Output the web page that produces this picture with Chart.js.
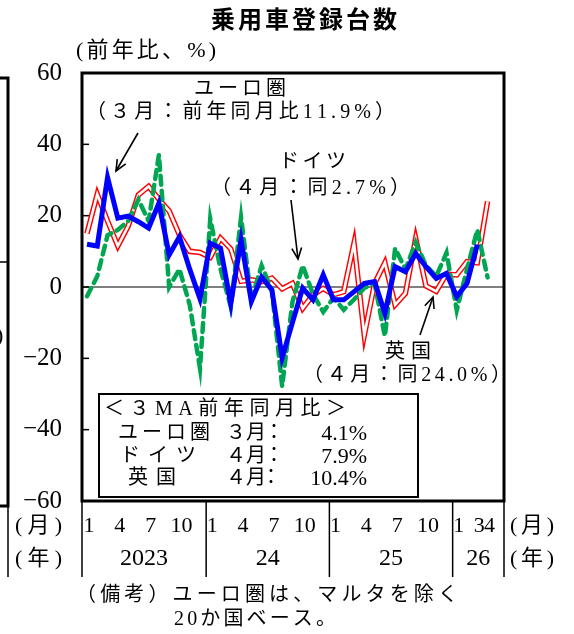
<!DOCTYPE html>
<html>
<head>
<meta charset="utf-8">
<script src="https://cdn.jsdelivr.net/npm/chart.js@4.4.1/dist/chart.umd.min.js"></script>
<style>
  html, body { margin: 0; padding: 0; background: #fff; }
  #wrap { width: 574px; height: 634px; }
</style>
</head>
<body>
<div id="wrap"><canvas id="myChart" width="574" height="634"></canvas></div>
<script>
// months, Jan 2023 - Apr 2026
const categories = [
  '2023-01','2023-02','2023-03','2023-04','2023-05','2023-06','2023-07','2023-08','2023-09','2023-10','2023-11','2023-12',
  '2024-01','2024-02','2024-03','2024-04','2024-05','2024-06','2024-07','2024-08','2024-09','2024-10','2024-11','2024-12',
  '2025-01','2025-02','2025-03','2025-04','2025-05','2025-06','2025-07','2025-08','2025-09','2025-10','2025-11','2025-12',
  '2026-01','2026-02','2026-03','2026-04'
];

// y/y % change
const euroArea = [
  12.0, 11.5, 30.7, 19.3, 19.9, 18.3, 16.5, 23.5, 9.0, 14.1, 5.0, -3.3,
  12.3, 10.9, -4.7, 13.2, -4.1, 2.8, -0.8, -19.8, -10.0, -0.3, -3.6, 3.4,
  -3.6, -3.6, -1.3, 1.0, 1.5, -7.4, 5.7, 4.3, 9.4, 5.7, 2.4, 3.8,
  -2.7, 1.0, 11.9, null
];
const germany = [
  -2.6, 3.0, 14.5, 16.0, 18.5, 24.5, 18.5, 37.0, 0.0, 5.0, -5.0, -22.8,
  19.1, 5.0, -5.5, 19.5, -3.5, 6.0, -1.0, -27.8, -4.2, 6.0, -2.0, -7.0,
  -3.0, -6.4, -3.5, -0.3, 1.0, -13.8, 10.8, 5.0, 12.5, 6.0, 3.0, 9.6,
  -6.5, 5.0, 16.0, 2.7
];
const uk = [
  15.0, 26.0, 18.5, 11.5, 17.0, 25.8, 28.2, 24.6, 21.3, 14.6, 10.0, 9.7,
  8.3, 13.7, 10.7, 1.6, 2.0, 1.5, 2.5, -0.5, 1.0, -6.0, -2.2, -0.4,
  -2.2, -1.3, 12.3, -13.5, 1.0, 6.8, -5.0, -1.8, 13.6, 0.3, -1.2, 3.6,
  3.4, 7.1, 6.8, 24.0
];

const yTicks = [60, 40, 20, 0, -20, -40, -60];
const monthTickIndex = [0, 3, 6, 9, 12, 15, 18, 21, 24, 27, 30, 33, 36, 38, 39];
const monthTickLabels = ['1', '4', '7', '10', '1', '4', '7', '10', '1', '4', '7', '10', '1', '3', '4'];
const yearStartIndex = [0, 12, 24, 36];
const yearLabels = ['2023', '24', '25', '26'];

const ma3Names = ['ユーロ圏', 'ドイツ', '英国'];
const ma3Months = ['３月', '４月', '４月'];
const ma3Values = ['4.1%', '7.9%', '10.4%'];

const serif = '"Liberation Serif", "Noto Sans CJK JP", serif';
const gothic = '"Noto Sans CJK JP", sans-serif';

function points(values) {
  return values.map(function (v, i) { return { x: i, y: v }; });
}

// draw text so that it fills x1..x2, gaps spread evenly
function spaced(ctx, text, x1, x2, y) {
  const chars = Array.from(text);
  const ws = chars.map(function (c) { return ctx.measureText(c).width; });
  const total = ws.reduce(function (a, b) { return a + b; }, 0);
  const gap = chars.length > 1 ? (x2 - x1 - total) / (chars.length - 1) : 0;
  let x = x1;
  ctx.textAlign = 'left';
  chars.forEach(function (c, k) {
    ctx.fillText(c, x, y);
    x += ws[k] + gap;
  });
}

function arrow(ctx, x1, y1, x2, y2) {
  ctx.beginPath();
  ctx.moveTo(x1, y1);
  ctx.lineTo(x2, y2);
  ctx.stroke();
  const a = Math.atan2(y2 - y1, x2 - x1);
  const len = 12, spread = 0.42;
  ctx.beginPath();
  ctx.moveTo(x2 - len * Math.cos(a - spread), y2 - len * Math.sin(a - spread));
  ctx.lineTo(x2, y2);
  ctx.lineTo(x2 - len * Math.cos(a + spread), y2 - len * Math.sin(a + spread));
  ctx.stroke();
}

const decor = {
  id: 'decor',
  beforeDatasetsDraw(chart) {
    const ctx = chart.ctx, area = chart.chartArea, ys = chart.scales.y;
    ctx.save();
    ctx.strokeStyle = '#000';
    ctx.lineWidth = 1.2;
    const y0 = ys.getPixelForValue(0);
    ctx.beginPath();
    ctx.moveTo(area.left, y0);
    ctx.lineTo(area.right, y0);
    ctx.stroke();
    ctx.lineWidth = 1.5;
    yTicks.forEach(function (t) {
      const y = ys.getPixelForValue(t);
      ctx.beginPath();
      ctx.moveTo(area.left, y);
      ctx.lineTo(area.left + 7, y);
      ctx.stroke();
    });
    ctx.restore();
  },
  afterDatasetsDraw(chart) {
    const ctx = chart.ctx, area = chart.chartArea, xs = chart.scales.x, ys = chart.scales.y;
    ctx.save();
    ctx.fillStyle = '#000';
    ctx.strokeStyle = '#000';
    ctx.textBaseline = 'middle';

    // frame
    ctx.lineWidth = 3;
    ctx.strokeRect(area.left, area.top, area.right - area.left, area.bottom - area.top);

    // 3MA box
    ctx.fillStyle = '#fff';
    ctx.fillRect(99, 394, 319, 103);
    ctx.lineWidth = 2;
    ctx.strokeRect(99, 394, 319, 103);
    ctx.fillStyle = '#000';
    ctx.font = '20px ' + serif;
    spaced(ctx, '＜３MA前年同月比＞', 104, 346, 410);
    const rowY = [434, 457, 479];
    const nameSpan = [[118, 210], [120, 196], [128, 176]];
    ma3Names.forEach(function (name, k) {
      spaced(ctx, name, nameSpan[k][0], nameSpan[k][1], rowY[k]);
      spaced(ctx, ma3Months[k], 226, 266, rowY[k]);
      ctx.textAlign = 'center';
      ctx.fillText('：', k === 2 ? 271 : 274, rowY[k]);
      ctx.textAlign = 'right';
      ctx.font = '22px ' + serif;
      ctx.fillText(ma3Values[k], 367, rowY[k]);
      ctx.font = '20px ' + serif;
    });

    // callouts
    ctx.font = '20px ' + serif;
    spaced(ctx, 'ユーロ圏', 194, 286, 90);
    spaced(ctx, '（３月：前年同月比11.9%）', 86, 395, 113);
    spaced(ctx, 'ドイツ', 279, 346, 163);
    spaced(ctx, '（４月：同2.7%）', 211, 410, 189);
    spaced(ctx, '英国', 385, 431, 353);
    spaced(ctx, '（４月：同24.0%）', 303, 511, 376);
    ctx.lineWidth = 1.6;
    arrow(ctx, 138, 133, 116, 171);
    arrow(ctx, 291, 200, 298, 259);
    arrow(ctx, 420, 335, 433, 297);

    // y tick labels
    ctx.font = '25px ' + serif;
    ctx.textAlign = 'right';
    yTicks.forEach(function (t) {
      const label = t < 0 ? '\u2212' + Math.abs(t) : String(t);
      ctx.fillText(label, 62, ys.getPixelForValue(t));
    });

    // month / year rows under the axis
    ctx.lineWidth = 1.5;
    const seps = [area.left, area.right].concat(yearStartIndex.slice(1).map(function (i) {
      return xs.getPixelForValue(i - 0.4);
    }));
    seps.forEach(function (x) {
      ctx.beginPath();
      ctx.moveTo(x, area.bottom);
      ctx.lineTo(x, 577);
      ctx.stroke();
    });
    ctx.font = '22px ' + serif;
    ctx.textAlign = 'center';
    monthTickIndex.forEach(function (i, k) {
      ctx.fillText(monthTickLabels[k], xs.getPixelForValue(i) + 2, 526);
    });
    ctx.font = '24px ' + serif;
    const bounds = [area.left].concat(yearStartIndex.slice(1).map(function (i) {
      return xs.getPixelForValue(i - 0.4);
    }), [area.right]);
    yearLabels.forEach(function (lab, k) {
      ctx.fillText(lab, (bounds[k] + bounds[k + 1]) / 2, 559);
    });
    ctx.font = '22px ' + serif;
    spaced(ctx, '(月)', 15, 62, 526);
    spaced(ctx, '(年)', 15, 62, 559);
    spaced(ctx, '(月)', 510, 554, 526);
    spaced(ctx, '(年)', 510, 554, 559);

    // titles and notes
    ctx.font = 'bold 24px ' + gothic;
    spaced(ctx, '乗用車登録台数', 211, 397, 19);
    ctx.font = '22px ' + serif;
    spaced(ctx, '(前年比、%)', 76, 216, 51);
    ctx.font = '20px ' + serif;
    spaced(ctx, '（備考）ユーロ圏は、マルタを除く', 76, 458, 596);
    spaced(ctx, '20か国ベース。', 174, 336, 620);

    // edge of the neighbouring panel
    ctx.lineWidth = 3;
    ctx.beginPath();
    ctx.moveTo(0, 78);
    ctx.lineTo(8, 78);
    ctx.lineTo(8, 506);
    ctx.lineTo(0, 506);
    ctx.stroke();
    ctx.lineWidth = 1.5;
    ctx.beginPath();
    ctx.moveTo(0, 262);
    ctx.lineTo(8, 262);
    ctx.moveTo(8, 506);
    ctx.lineTo(8, 577);
    ctx.stroke();
    ctx.font = '22px ' + serif;
    ctx.textAlign = 'left';
    ctx.fillText(')', -4, 336);
    ctx.restore();
  }
};

const ctx = document.getElementById('myChart').getContext('2d');

const chart = new Chart(ctx, {
  type: 'line',
  data: {
    datasets: [
      { label: '英国', data: points(uk), borderColor: '#ff0000', borderWidth: 5.5, order: 3 },
      { label: '英国_inner', data: points(uk), borderColor: '#ffffff', borderWidth: 2.6, order: 2 },
      { label: 'ドイツ', data: points(germany), borderColor: '#00a651', borderWidth: 4.5, borderDash: [9, 6], borderCapStyle: 'round', order: 1 },
      { label: 'ユーロ圏', data: points(euroArea), borderColor: '#0000ff', borderWidth: 5, order: 0 }
    ]
  },
  options: {
    responsive: false,
    devicePixelRatio: 1,
    animation: false,
    layout: { padding: { left: 82, top: 73, right: 70, bottom: 133 } },
    elements: {
      point: { radius: 0 },
      line: { tension: 0, fill: false }
    },
    scales: {
      x: { type: 'linear', min: -0.487, max: 40.6, display: false },
      y: { min: -60, max: 60, display: false }
    },
    plugins: {
      legend: { display: false },
      tooltip: { enabled: false }
    }
  },
  plugins: [decor]
});
</script>
</body>
</html>
